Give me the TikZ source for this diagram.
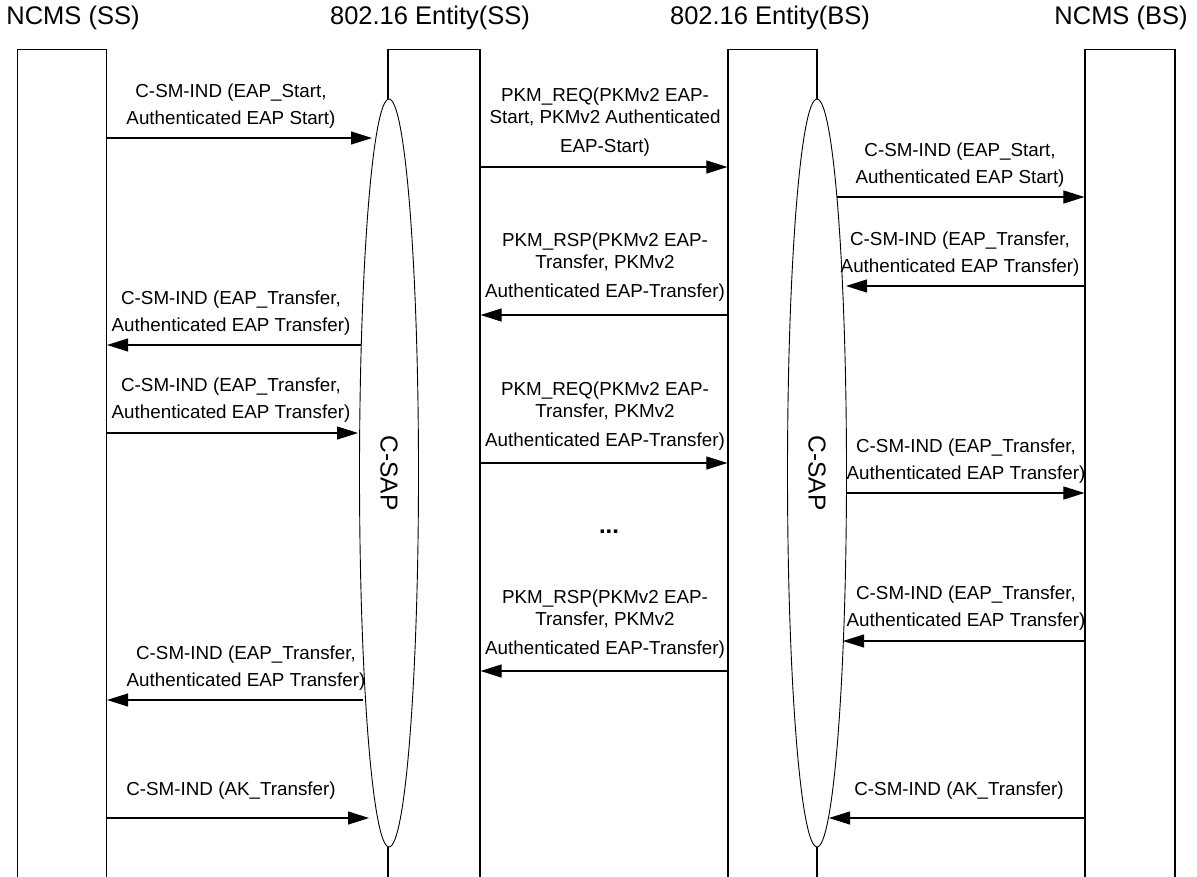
\documentclass[tikz,border=0pt]{standalone}
\usepackage{fontspec}
\setmainfont{Liberation Sans}
\usetikzlibrary{shapes.geometric,arrows.meta}

\begin{document}
\begin{tikzpicture}[x=1pt,y=-1pt]
  \tikzstyle{lane}=[draw,line width=1.2pt,anchor=north,minimum height=900pt,inner sep=0pt]
  \tikzstyle{csap}=[ellipse,draw,line width=0.9pt,fill=white,rotate=-90,minimum width=748pt,minimum height=59pt,inner sep=0pt,font=\fontsize{24.5}{28}\selectfont]
  \tikzstyle{head}=[font=\fontsize{25.5}{30}\selectfont]
  \tikzstyle{msg}=[draw,line width=1.1pt,-{Triangle[length=21pt,width=13pt]}]
  \tikzstyle{lbl}=[align=center,inner sep=0pt,font=\fontsize{18.8}{27}\selectfont]
  \useasboundingbox (0,0) rectangle (1197,876);
  \clip (0,0) rectangle (1197,876);

  % headers
  \node[head] (hncmsss) at (73,18) {NCMS (SS)};
  \node[head] (hentss) at (430,18) {802.16 Entity(SS)};
  \node[head] (hentbs) at (770,18) {802.16 Entity(BS)};
  \node[head] (hncmsbs) at (1121,18) {NCMS (BS)};

  % lanes
  \node[lane,minimum width=89pt] (ncmsss) at (62,49) {};
  \node[lane,minimum width=92pt] (entss) at (434,49) {};
  \node[lane,minimum width=89pt] (entbs) at (772.5,49) {};
  \node[lane,minimum width=90pt] (ncmsbs) at (1130,49) {};

  % service access points
  \node[csap] (csapss) at (389,473) {C-SAP};
  \node[csap] (csapbs) at (817,473) {C-SAP};

  % NCMS(SS) <-> 802.16 Entity(SS)
  \coordinate (t1) at (372,138);
  \coordinate (t2) at (361,345);
  \coordinate (t3) at (358,433);
  \coordinate (t4) at (363,700);
  \coordinate (t5) at (369,818);
  \draw[msg] (ncmsss.east |- t1) -- (t1);
  \draw[msg] (t2) -- (ncmsss.east |- t2);
  \draw[msg] (ncmsss.east |- t3) -- (t3);
  \draw[msg] (t4) -- (ncmsss.east |- t4);
  \draw[msg] (ncmsss.east |- t5) -- (t5);
  \node[lbl] (l1) at (231,106.5) {C-SM-IND (EAP\_Start,\\Authenticated EAP Start)};
  \node[lbl] (l2) at (231,313.5) {C-SM-IND (EAP\_Transfer,\\Authenticated EAP Transfer)};
  \node[lbl] (l3) at (231,400.5) {C-SM-IND (EAP\_Transfer,\\Authenticated EAP Transfer)};
  \node[lbl] (l4) at (246,668) {C-SM-IND (EAP\_Transfer,\\Authenticated EAP Transfer)};
  \node[lbl] (l5) at (231,791) {C-SM-IND (AK\_Transfer)};

  % 802.16 Entity(SS) <-> 802.16 Entity(BS)
  \draw[msg] (entss.east |- 0,167) -- (entbs.west |- 0,167);
  \draw[msg] (entbs.west |- 0,315) -- (entss.east |- 0,315);
  \draw[msg] (entss.east |- 0,463) -- (entbs.west |- 0,463);
  \draw[msg] (entbs.west |- 0,671) -- (entss.east |- 0,671);
  \node[lbl] (m1) at (605,122) {PKM\_REQ(PKMv2 EAP-\\[-5pt]Start, PKMv2 Authenticated\\[2pt]EAP-Start)};
  \node[lbl] (m2) at (605,267) {PKM\_RSP(PKMv2 EAP-\\[-5pt]Transfer, PKMv2\\[2pt]Authenticated EAP-Transfer)};
  \node[lbl] (m3) at (605,416) {PKM\_REQ(PKMv2 EAP-\\[-5pt]Transfer, PKMv2\\[2pt]Authenticated EAP-Transfer)};
  \node[lbl,font=\fontsize{24}{28}\selectfont\bfseries] (m4) at (609,532) {...};
  \node[lbl] (m5) at (605,624.5) {PKM\_RSP(PKMv2 EAP-\\[-5pt]Transfer, PKMv2\\[2pt]Authenticated EAP-Transfer)};

  % 802.16 Entity(BS) <-> NCMS(BS)
  \coordinate (r1) at (837,197);
  \coordinate (r2) at (846,286);
  \coordinate (r3) at (846,493);
  \coordinate (r4) at (843,641);
  \coordinate (r5) at (829,818);
  \draw[msg] (r1) -- (ncmsbs.west |- r1);
  \draw[msg] (ncmsbs.west |- r2) -- (r2);
  \draw[msg] (r3) -- (ncmsbs.west |- r3);
  \draw[msg] (ncmsbs.west |- r4) -- (r4);
  \draw[msg] (ncmsbs.west |- r5) -- (r5);
  \node[lbl] (n1) at (960,165.5) {C-SM-IND (EAP\_Start,\\Authenticated EAP Start)};
  \node[lbl] (n2) at (960,254.5) {C-SM-IND (EAP\_Transfer,\\Authenticated EAP Transfer)};
  \node[lbl] (n3) at (966,461) {C-SM-IND (EAP\_Transfer,\\Authenticated EAP Transfer)};
  \node[lbl] (n4) at (966,608.5) {C-SM-IND (EAP\_Transfer,\\Authenticated EAP Transfer)};
  \node[lbl] (n5) at (959,791) {C-SM-IND (AK\_Transfer)};
\end{tikzpicture}
\end{document}
